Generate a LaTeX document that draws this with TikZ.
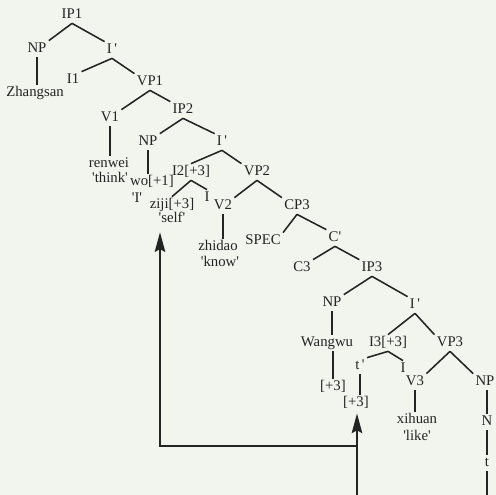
\documentclass[tikz,border=0pt]{standalone}
\usepackage{fontspec}
\setmainfont{Liberation Serif}
\usetikzlibrary{arrows.meta,positioning}
\newcommand{\glq}[1]{\textquotesingle#1\textquotesingle}
\newcommand{\prm}{\textquotesingle}
\definecolor{tpaper}{HTML}{F2F4EE}
\definecolor{tink}{HTML}{242424}
\tikzset{
  lab/.style={inner sep=1.5pt,text height=7pt,text depth=1.5pt,text=tink},
  branch/.style={tink,line width=1.1pt},
  movearr/.style={tink,line width=1.1pt,-{Stealth[length=14pt,width=7.5pt,inset=2pt]}}
}

\begin{document}
\begin{tikzpicture}[x=0.025cm,y=-0.025cm,font=\fontsize{10.5}{12}\selectfont]
  \useasboundingbox (0,0) rectangle (496,495);
  \fill[tpaper] (0,0) rectangle (496,495);
  \clip (0,0) rectangle (496,495);

  % tree labels: {name}/{x}/{y}/{text}
  \foreach \n/\x/\y/\t in {%
    IPa/72/15/IP1, NPa/37/49/NP, Ia/112/50/{I\,\prm},
    Zhang/35/93/Zhangsan, Ione/73/80/I1, VPa/150/82/VP1,
    Va/110/118/V1, IPb/183/110/IP2,
    renwei/109/164/renwei, think/110/179/{\glq{think}},
    NPb/148/142/NP, Ib/222/142/{I\,\prm},
    wo/152/182/{wo[+1]}, glI/137/199/{\glq{I}},
    Itwo/191/172/{I2[+3]}, VPb/257/172/VP2,
    ziji/172/205/{ziji[+3]}, self/172/219/{\glq{self}},
    Ic/207/198/I, Vb/223/206/V2,
    zhidao/218/247/zhidao, know/220/263/{\glq{know}},
    CPc/297/206/CP3, spec/263/241/SPEC, Cbar/335/238/{C\prm},
    Cc/302/268/C3, IPc/372/268/IP3,
    NPc/332/303/NP, Id/415/305/{I\,\prm},
    wang/327/343/Wangwu, pa/333/387/{[+3]},
    Ithree/388/343/{I3[+3]}, VPc/450/343/VP3,
    tp/360/366/{t\,\prm}, Ie/403/369/I, pb/356/403/{[+3]},
    Vc/415/382/V3, xihuan/417/420/xihuan, like/417/437/{\glq{like}},
    NPd/485/382/NP, N/487/422/N, t/487/463/t}{
      \node[lab] (\n) at (\x,\y) {\t};
  }

  % branches: parent/child/anchor
  \foreach \p/\c/\a in {%
    IPa/NPa/north east, IPa/Ia/north west,
    Ia/Ione/north east, Ia/VPa/north west,
    VPa/Va/north east, VPa/IPb/north west,
    IPb/NPb/north east, IPb/Ib/north west,
    Ib/Itwo/north, Ib/VPb/north west,
    Itwo/ziji/north, Itwo/Ic/north,
    VPb/Vb/north east, VPb/CPc/north west,
    CPc/spec/north east, CPc/Cbar/north west,
    Cbar/Cc/north east, Cbar/IPc/north west,
    IPc/NPc/north east, IPc/Id/north west,
    Id/Ithree/north, Id/VPc/north west,
    Ithree/tp/north east, Ithree/Ie/north,
    VPc/Vc/north east, VPc/NPd/north west}{
      \draw[branch] (\p.south) -- (\c.\a);
  }
  % unary lines
  \foreach \p/\c in {NPa/Zhang, Va/renwei, NPb/wo, Vb/zhidao,
    NPc/wang, tp/pb, Vc/xihuan, N/t}{
      \draw[branch] (\p.south) -- (\p.south |- \c.north);
  }
  \foreach \p/\c in {wang/pa, NPd/N}{
      \draw[branch] (\c.north |- \p.south) -- (\c.north);
  }

  % movement of ziji
  \coordinate (mvbot) at (357,500);
  \coordinate (mvturn) at (357,446);
  \coordinate (mvleft) at (160,446);
  \draw[movearr,shorten >=1.5pt] (mvbot) -- (mvturn |- pb.south);
  \draw[movearr,shorten >=3.5pt] (mvturn) -- (mvleft) -- (mvleft |- self.south);
  \draw[branch] (t.south) -- (t.south |- mvbot);
\end{tikzpicture}
\end{document}
